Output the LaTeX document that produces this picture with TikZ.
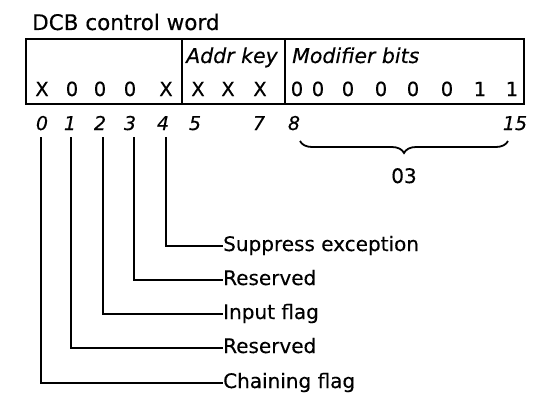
\documentclass[tikz,border=0pt]{standalone}
\usepackage{fontspec}
\setmainfont{DejaVu Sans}[FakeBold=0.35]
\usetikzlibrary{decorations.pathreplacing}
\begin{document}
\begin{tikzpicture}[x=1pt,y=-1pt,
  bit/.style={inner sep=0pt, anchor=base, font=\fontsize{19.5}{19.5}\selectfont},
  num/.style={inner sep=0pt, anchor=base, font=\fontsize{19}{19}\selectfont\itshape},
  field/.style={inner sep=0pt, anchor=base west, font=\fontsize{20.5}{20.5}\selectfont\itshape},
  lab/.style={inner sep=0pt, anchor=west, text height=14pt, text depth=4pt, font=\fontsize{20}{20}\selectfont},
  ln/.style={line width=1.7pt},
  frame/.style={line width=1.7pt},
  bracestyle/.style={decorate, decoration={brace, amplitude=12pt, mirror}, line width=1.8pt}]
\useasboundingbox (0,0) rectangle (545,396);
% title
\node[anchor=base west, inner sep=0pt, font=\fontsize{21.5}{21.5}\selectfont] (title) at (32,30) {DCB control word};
% frame
\draw[frame] (26,39) rectangle (524,104);
\draw[frame] (182,39) -- (182,104);
\draw[frame] (285,39) -- (285,104);
% field labels
\node[field] (addr) at (186,63) {Addr key};
\node[field] (mod) at (292,63) {Modifier bits};
% bit values
\foreach \x/\t [count=\i] in {42/X,72/0,100/0,130/0,166/X,198/X,228/X,260/X,297/0,318/0,348/0,381/0,413/0,447/0,480/1,512/1}
  \node[bit] (v\i) at (\x,96) {\t};
% bit numbers
\foreach \x/\t in {42/0,70/1,100/2,130/3,163/4,195/5,259/7,294/8,515/15}
  \node[num] (n\t) at (\x,130) {\t};
% brace
\coordinate (b1) at (300,141);
\coordinate (b2) at (508,141);
\draw[bracestyle] (b1) -- (b2);
\node[bit, font=\fontsize{20}{20}\selectfont] (hex) at (404,183) {03};
% labels
\node[lab] (l4) at (223,246) {Suppress exception};
\node[lab] (l3) at (223,280) {Reserved};
\node[lab] (l2) at (223,314) {Input flag};
\node[lab] (l1) at (223,348) {Reserved};
\node[lab] (l0) at (223,383) {Chaining flag};
% connectors
\coordinate (t0) at (41,137);
\coordinate (t1) at (71,137);
\coordinate (t2) at (103,137);
\coordinate (t3) at (134,137);
\coordinate (t4) at (166,137);
\foreach \i in {0,...,4}
  \draw[ln] (t\i) |- (l\i.west);
\end{tikzpicture}
\end{document}
